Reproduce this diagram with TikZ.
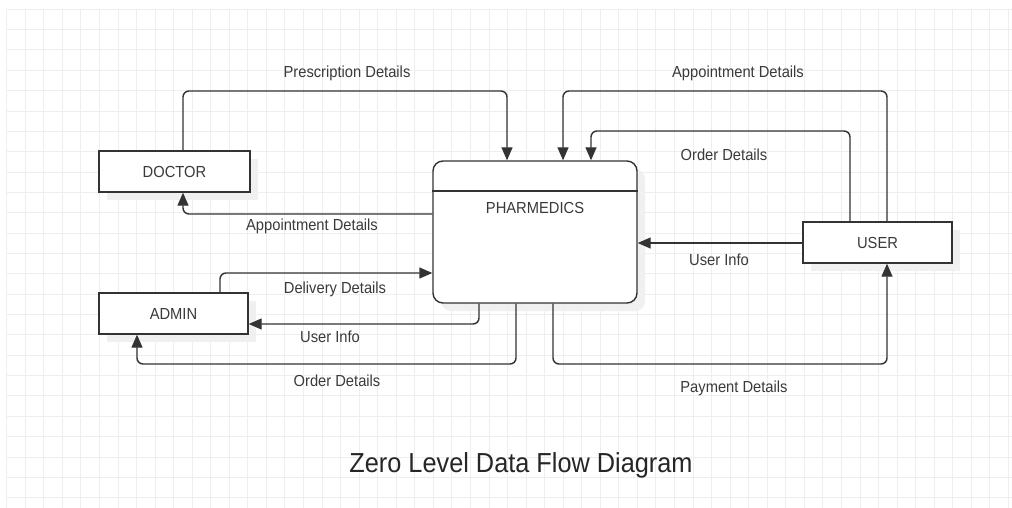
\documentclass[tikz,border=0pt]{standalone}
\usepackage{fontspec}
\setmainfont{Liberation Sans}
\newfontfamily\lblfont[FakeStretch=0.92]{Liberation Sans}
\usetikzlibrary{arrows.meta,shadows}
\definecolor{ink}{HTML}{333333}
\definecolor{txt}{HTML}{3A3A3A}
\definecolor{gridc}{HTML}{EEEEEE}
\definecolor{shade}{HTML}{F0F0F0}
\tikzset{
  gridline/.style={draw=gridc, line width=1pt},
  entity/.style={draw=ink, line width=1.4pt, fill=white, rectangle, inner sep=0pt,
    font=\lblfont\fontsize{16}{18}\selectfont, text=txt,
    general shadow={shadow xshift=8pt, shadow yshift=-8pt, fill=shade}},
  procbox/.style={entity, rounded corners=10pt},
  flow/.style={draw=ink, line width=1.4pt, rounded corners=6pt, -{Triangle[length=13pt,width=11pt]}},
  lbl/.style={font=\lblfont\fontsize{16}{18}\selectfont, text=txt, inner sep=0pt},
  ttl/.style={font=\lblfont\fontsize{27.5}{30}\selectfont, text=black!85, inner sep=0pt}
}
\begin{document}
\begin{tikzpicture}[x=1pt,y=-1pt]
\useasboundingbox (0,0) rectangle (1012,508);
\fill[white] (0,0) rectangle (1012,508);
% grid
\foreach \i in {0,...,54} \draw[gridline] (6.7+\i*18.55,9.3) -- (6.7+\i*18.55,508);
\foreach \j in {0,...,24} \draw[gridline] (6.7,9.3+\j*20.35) -- (1012,9.3+\j*20.35);
% boxes
\node[entity, minimum width=151pt, minimum height=41pt] (doc) at (174.5,171.5) {DOCTOR};
\node[entity, minimum width=149pt, minimum height=41pt] (adm) at (173.5,313.5) {ADMIN};
\node[entity, minimum width=149pt, minimum height=41pt] (usr) at (877.5,242.5) {USER};
\node[procbox, minimum width=204pt, minimum height=142pt] (pha) at (535,232) {};
\draw[draw=ink, line width=1.4pt] (pha.west |- 0,191) -- (pha.east |- 0,191);
\node[lbl] (phat) at (535,208) {PHARMEDICS};
% flows
\draw[flow] (doc.north -| 183,0) -- (183,91) -- (507,91) -- (pha.north -| 507,0);
\draw[flow] (pha.west |- 0,214) -- (183,214) -- (doc.south -| 183,0);
\draw[flow] (adm.north -| 220,0) -- (220,273) -- (pha.west |- 0,273);
\draw[flow] (pha.south -| 479,0) -- (479,324) -- (adm.east |- 0,324);
\draw[flow] (pha.south -| 516,0) -- (516,364) -- (137,364) -- (adm.south -| 137,0);
\draw[flow] (usr.north -| 887,0) -- (887,91) -- (563,91) -- (pha.north -| 563,0);
\draw[flow] (usr.north -| 850,0) -- (850,131) -- (591,131) -- (pha.north -| 591,0);
\draw[flow] (usr.west |- 0,243) -- (pha.east |- 0,243);
\draw[flow] (pha.south -| 553,0) -- (553,364) -- (887,364) -- (usr.south -| 887,0);
% labels
\node[lbl] (l1) at (347,73) {Prescription Details};
\node[lbl] (l2) at (312,226) {Appointment Details};
\node[lbl] (l3) at (335,289) {Delivery Details};
\node[lbl] (l4) at (330,337) {User Info};
\node[lbl] (l5) at (337,381) {Order Details};
\node[lbl] (l6) at (738,73) {Appointment Details};
\node[lbl] (l7) at (724,155) {Order Details};
\node[lbl] (l8) at (719,260) {User Info};
\node[lbl] (l9) at (734,388) {Payment Details};
\node[ttl] (title) at (521,465) {Zero Level Data Flow Diagram};
\end{tikzpicture}
\end{document}
